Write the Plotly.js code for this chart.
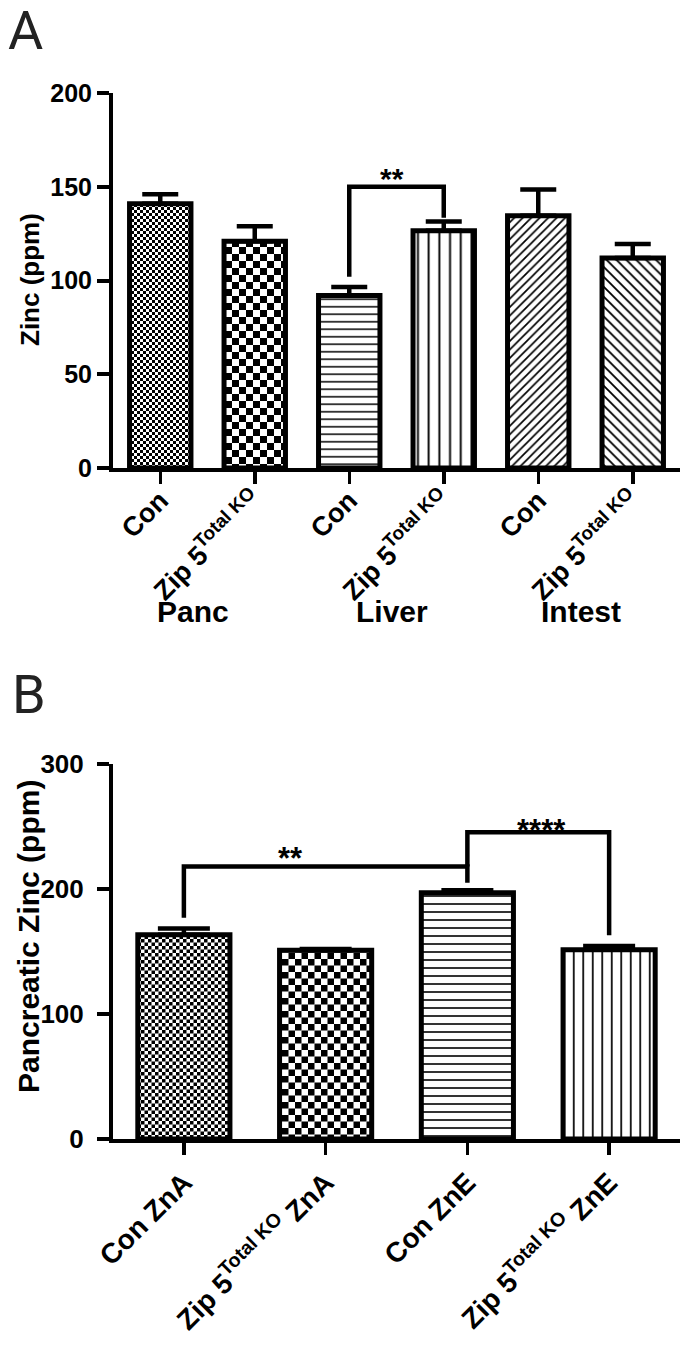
<!DOCTYPE html>
<html>
<head>
<meta charset="utf-8">
<script src="https://cdn.plot.ly/plotly-3.0.1.min.js"></script>
<style>
html,body{margin:0;padding:0;background:#fff;}
#chart{width:686px;height:1347px;}
</style>
</head>
<body>
<div id="chart"></div>
<script>
// ---------- Panel A data ----------
const tickTextA = ['Con', 'Zip 5<sup>Total KO</sup>', 'Con', 'Zip 5<sup>Total KO</sup>', 'Con', 'Zip 5<sup>Total KO</sup>'];
const valuesA = [141, 121, 92, 126.5, 134.5, 112];
const errorsA = [5, 8, 4.5, 5, 14, 7.5];
const groupLabelsA = ['Panc', 'Liver', 'Intest'];
const groupLabelPosA = [0.35, 2.45, 4.45];
const bracketAx = [2, 2, 3, 3];
const bracketAy = [102, 150, 150, 133.5];
const starsAText = ['**'];
const starsAx = [2.45];
const starsAy = [150];

// ---------- Panel B data ----------
const tickTextB = ['Con ZnA', 'Zip 5<sup>Total KO</sup> ZnA', 'Con ZnE', 'Zip 5<sup>Total KO</sup> ZnE'];
const valuesB = [163.5, 151, 197, 151.5];
const errorsB = [5, 1, 2, 3];
const bracketB1x = [0, 0, 2, 2];
const bracketB1y = [177, 218, 218, 205];
const bracketB2x = [2, 2, 3, 3];
const bracketB2y = [218, 245.5, 245.5, 163];
const starsBText = ['**', '****'];
const starsBx = [0.75, 2.52];
const starsBy = [218, 245.5];

// ---------- styling ----------
const FONT = 'Liberation Sans, Arial, Helvetica, sans-serif';
const idxA = valuesA.map((_, i) => i);
const idxB = valuesB.map((_, i) => i);

const patternA = {
  shape: ['.', '.', '-', '|', '/', '\\'],
  size: [6, 14, 7.5, 10.7, 6, 7],
  solidity: [0.5, 0.5, 0.2, 0.18, 0.28, 0.26],
  fgcolor: 'black', bgcolor: 'white', fillmode: 'replace'
};
const patternB = {
  shape: ['.', '.', '-', '|'],
  size: [7, 13, 8, 9.5],
  solidity: [0.5, 0.5, 0.2, 0.18],
  fgcolor: 'black', bgcolor: 'white', fillmode: 'replace'
};

function barTrace(x, y, err, pattern, xa, ya, capw) {
  return {
    type: 'bar', x: x, y: y, xaxis: xa, yaxis: ya,
    marker: { color: 'white', line: { color: 'black', width: 5 }, pattern: pattern },
    error_y: { type: 'data', array: err, arrayminus: err.map(() => 0), symmetric: false,
               color: 'black', thickness: 4.5, width: capw },
    hoverinfo: 'skip', showlegend: false
  };
}
function lineTrace(x, y, xa, ya) {
  return { type: 'scatter', mode: 'lines', x: x, y: y, xaxis: xa, yaxis: ya,
           line: { color: 'black', width: 4.5 }, hoverinfo: 'skip', showlegend: false };
}

const data = [
  barTrace(idxA, valuesA, errorsA, patternA, 'x', 'y', 18),
  barTrace(idxB, valuesB, errorsB, patternB, 'x2', 'y2', 26),
  lineTrace(bracketAx, bracketAy, 'x', 'y'),
  lineTrace(bracketB1x, bracketB1y, 'x2', 'y2'),
  lineTrace(bracketB2x, bracketB2y, 'x2', 'y2')
];

const H = 1347, L = 113, W = 686 - 113 - 6;
const py = p => 1 - p / H;           // pixel row -> paper y
const px = p => (p - L) / W;         // pixel column -> paper x

const axisCommon = {
  showline: true, linecolor: 'black', linewidth: 4, showgrid: false, zeroline: false,
  ticks: 'outside', tickcolor: 'black', ticklen: 12, tickwidth: 4
};

const annotations = [];
groupLabelsA.forEach((t, i) => annotations.push({
  text: t, x: groupLabelPosA[i], xref: 'x', y: py(612), yref: 'paper',
  showarrow: false, xanchor: 'center', yanchor: 'middle',
  font: { family: FONT, size: 30, weight: 'bold', color: 'black' }
}));
starsAText.forEach((t, i) => annotations.push({
  text: t, x: starsAx[i], xref: 'x', y: starsAy[i], yref: 'y', showarrow: false,
  xanchor: 'center', yanchor: 'bottom', yshift: -10,
  font: { family: FONT, size: 30, weight: 'bold', color: 'black' }
}));
starsBText.forEach((t, i) => annotations.push({
  text: t, x: starsBx[i], xref: 'x2', y: starsBy[i], yref: 'y2', showarrow: false,
  xanchor: 'center', yanchor: 'bottom', yshift: i === 0 ? -11 : -18,
  font: { family: FONT, size: 31, weight: 'bold', color: 'black' }
}));
annotations.push({
  text: 'Zinc (ppm)', textangle: -90, x: px(30), xref: 'paper', y: py(280), yref: 'paper',
  showarrow: false, xanchor: 'center', yanchor: 'middle',
  font: { family: FONT, size: 26, weight: 'bold', color: 'black' }
});
annotations.push({
  text: 'Pancreatic Zinc (ppm)', textangle: -90, x: px(28), xref: 'paper', y: py(937), yref: 'paper',
  showarrow: false, xanchor: 'center', yanchor: 'middle',
  font: { family: FONT, size: 30, weight: 'bold', color: 'black' }
});
annotations.push({
  text: 'A', x: px(25), xref: 'paper', y: py(30), yref: 'paper', showarrow: false,
  xanchor: 'center', yanchor: 'middle',
  font: { family: 'Roboto, Liberation Sans, sans-serif', size: 54, color: '#222' }
});
annotations.push({
  text: 'B', x: px(29), xref: 'paper', y: py(694), yref: 'paper', showarrow: false,
  xanchor: 'center', yanchor: 'middle',
  font: { family: 'Roboto, Liberation Sans, sans-serif', size: 54, color: '#222' }
});

const layout = {
  width: 686, height: 1347,
  margin: { l: L, r: 6, t: 0, b: 0 },
  paper_bgcolor: 'white', plot_bgcolor: 'white',
  bargap: 0.35,
  font: { family: FONT, color: 'black' },
  xaxis: Object.assign({}, axisCommon, {
    domain: [0, 1], anchor: 'y', range: [-0.5, 5.5],
    tickvals: idxA, ticktext: tickTextA, tickangle: -45, tickwidth: 3.5,
    ticklabelstandoff: -10,
    tickfont: { family: FONT, size: 27, weight: 'bold', color: 'black' }
  }),
  yaxis: Object.assign({}, axisCommon, {
    domain: [py(468), py(93)], anchor: 'x', range: [0, 200],
    tickvals: [0, 50, 100, 150, 200],
    tickfont: { family: FONT, size: 25, weight: 'bold', color: 'black' }
  }),
  xaxis2: Object.assign({}, axisCommon, {
    domain: [0, 1], anchor: 'y2', range: [-0.5, 3.5],
    tickvals: idxB, ticktext: tickTextB, tickangle: -45, tickwidth: 3.5,
    tickfont: { family: FONT, size: 28, weight: 'bold', color: 'black' }
  }),
  yaxis2: Object.assign({}, axisCommon, {
    domain: [py(1139), py(764)], anchor: 'x2', range: [0, 300],
    tickvals: [0, 100, 200, 300], ticklabelstandoff: 8,
    tickfont: { family: FONT, size: 26, weight: 'bold', color: 'black' }
  }),
  annotations: annotations
};

// checkerboard fills (Plotly has no checker pattern shape)
const checkers = { sub: ['xy', 'xy', 'x2y2', 'x2y2'], point: [0, 1, 0, 1], cell: [3, 7, 3.5, 6.5] };

const gd = document.getElementById('chart');
Plotly.newPlot(gd, data, layout, { staticPlot: true, displayModeBar: false }).then(() => {
  const svg = gd.querySelector('svg.main-svg');
  const NS = 'http://www.w3.org/2000/svg';
  let defs = svg.querySelector('defs');
  checkers.sub.forEach((sub, k) => {
    const c = checkers.cell[k];
    const id = 'checker' + k;
    const pat = document.createElementNS(NS, 'pattern');
    pat.setAttribute('id', id);
    pat.setAttribute('patternUnits', 'userSpaceOnUse');
    pat.setAttribute('width', 2 * c);
    pat.setAttribute('height', 2 * c);
    const bg = document.createElementNS(NS, 'rect');
    bg.setAttribute('width', 2 * c); bg.setAttribute('height', 2 * c); bg.setAttribute('fill', 'white');
    pat.appendChild(bg);
    [[0, 0], [c, c]].forEach(([a, b]) => {
      const r = document.createElementNS(NS, 'rect');
      r.setAttribute('x', a); r.setAttribute('y', b);
      r.setAttribute('width', c); r.setAttribute('height', c);
      r.setAttribute('fill', 'black');
      pat.appendChild(r);
    });
    defs.appendChild(pat);
    const paths = gd.querySelectorAll('.subplot.' + sub + ' .barlayer .trace .point path');
    const p = paths[checkers.point[k]];
    if (p) { p.style.setProperty('fill', 'url(#' + id + ')'); p.style.setProperty('fill-opacity', '1'); }
  });
});
</script>
</body>
</html>
